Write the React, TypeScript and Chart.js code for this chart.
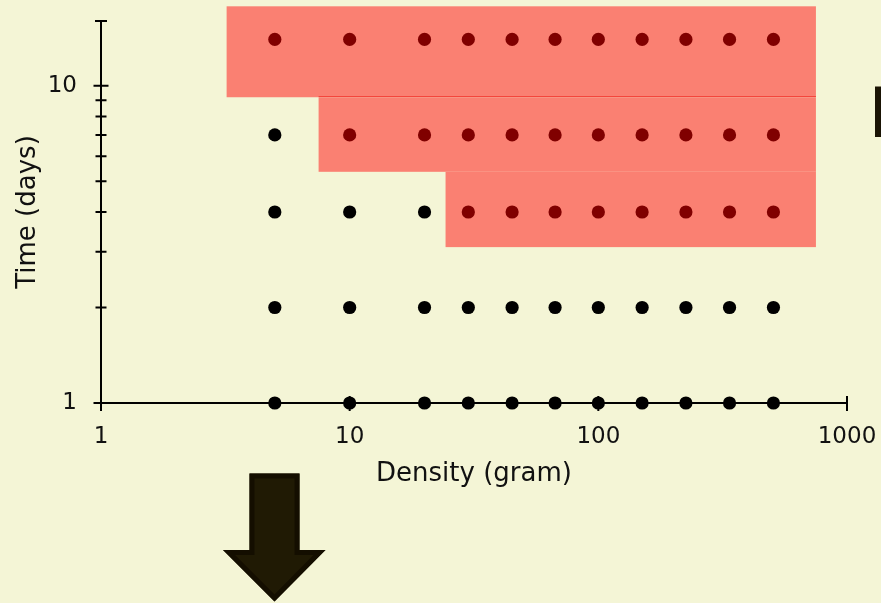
import React, { useEffect, useRef } from 'react';
import { Chart, registerables } from 'chart.js';

Chart.register(...registerables);

// ---- data ----
const densities = [5, 10, 20, 30, 45, 67, 100, 150, 225, 337, 506];
const times = [1, 2, 4, 7, 14];
// for each time row: index in densities from which points fall in a highlighted region
const highlightFrom = [11, 11, 3, 1, 0];

// highlighted regions (data units)
const regionXMin = [3.2, 7.5, 24.3];
const regionXMax = [750, 750, 750];
const regionYMin = [9.2, 5.355, 3.1];
const regionYMax = [17.8, 9.2, 5.355];

const xTicks = [1, 10, 100, 1000];
const xTickLabels = ['1', '10', '100', '1000'];
const yTicks = [1, 10];
const yTickLabels = ['1', '10'];
const yMinorTicks = [2, 3, 4, 5, 6, 7, 8, 9];
const xRange = [1, 1000];
const yRange = [1, 16];

const FONT = "'DejaVu Sans', Verdana, sans-serif";
const BG = '#F4F5D6';

const blackPoints: { x: number; y: number }[] = [];
const redPoints: { x: number; y: number }[] = [];
times.forEach((t, r) => {
  densities.forEach((d, i) => {
    (i >= highlightFrom[r] ? redPoints : blackPoints).push({ x: d, y: t });
  });
});

const decorPlugin = {
  id: 'decor',
  beforeDatasetsDraw(chart: any) {
    const { ctx, scales } = chart;
    const x = scales.x;
    const y = scales.y;
    ctx.save();
    // regions
    ctx.fillStyle = '#FA8072';
    for (let i = 0; i < regionXMin.length; i++) {
      const l = x.getPixelForValue(regionXMin[i]);
      const r = x.getPixelForValue(regionXMax[i]);
      const t = y.getPixelForValue(regionYMax[i]);
      const b = y.getPixelForValue(regionYMin[i]);
      ctx.fillRect(l, t, r - l, b - t);
    }
    // thin red edge on top of the second region
    {
      const l = x.getPixelForValue(regionXMin[1]);
      const r = x.getPixelForValue(regionXMax[1]);
      const t = Math.round(y.getPixelForValue(regionYMax[1])) - 0.5;
      ctx.strokeStyle = '#F4463C';
      ctx.lineWidth = 1;
      ctx.beginPath();
      ctx.moveTo(l, t);
      ctx.lineTo(r, t);
      ctx.stroke();
    }

    // axes
    const x0 = x.getPixelForValue(xRange[0]);
    const x1 = x.getPixelForValue(xRange[1]);
    const y0 = y.getPixelForValue(yRange[0]);
    const y1 = y.getPixelForValue(yRange[1]);
    ctx.strokeStyle = '#000';
    ctx.lineWidth = 2;
    ctx.beginPath();
    ctx.moveTo(x0, y1);
    ctx.lineTo(x0, y0);
    ctx.moveTo(x0, y0);
    ctx.lineTo(x1, y0);
    // y top cap
    ctx.moveTo(x0 - 6, y1);
    ctx.lineTo(x0 + 6, y1);
    // y major ticks
    yTicks.forEach((v) => {
      const p = y.getPixelForValue(v);
      ctx.moveTo(x0 - 7.5, p);
      ctx.lineTo(x0 + 7.5, p);
    });
    // x major ticks
    xTicks.forEach((v) => {
      const p = x.getPixelForValue(v);
      ctx.moveTo(p, y0 - 7);
      ctx.lineTo(p, y0 + 8);
    });
    ctx.stroke();
    // y minor ticks
    ctx.beginPath();
    yMinorTicks.forEach((v) => {
      const p = y.getPixelForValue(v);
      ctx.moveTo(x0 - 5.5, p);
      ctx.lineTo(x0 + 5.5, p);
    });
    ctx.stroke();
    ctx.restore();
  },
  afterDraw(chart: any) {
    const { ctx } = chart;
    ctx.save();
    // down arrow decoration
    const pts = [
      [249.5, 473.5],
      [299.5, 473.5],
      [299.5, 550],
      [325.5, 550],
      [274.5, 601.5],
      [223, 550],
      [249.5, 550],
    ];
    ctx.beginPath();
    pts.forEach((p, i) => (i === 0 ? ctx.moveTo(p[0], p[1]) : ctx.lineTo(p[0], p[1])));
    ctx.closePath();
    ctx.fillStyle = '#201A04';
    ctx.fill();
    ctx.save();
    ctx.clip();
    ctx.strokeStyle = '#140E00';
    ctx.lineWidth = 10;
    ctx.stroke();
    ctx.restore();
    // partial block at right edge
    ctx.fillStyle = '#1A1404';
    ctx.fillRect(875, 86, 6, 51);
    ctx.fillStyle = '#8A8570';
    ctx.fillRect(875, 86, 6, 1);
    ctx.restore();
  },
};

export default function App() {
  const canvasRef = useRef<HTMLCanvasElement | null>(null);

  useEffect(() => {
    document.body.style.background = BG;
    const canvas = canvasRef.current;
    if (!canvas) return;
    const chart = new Chart(canvas, {
      type: 'scatter',
      data: {
        datasets: [
          {
            data: blackPoints,
            backgroundColor: '#000000',
            borderWidth: 0,
            pointRadius: 6.6,
            pointHoverRadius: 6.6,
            clip: false,
          } as any,
          {
            data: redPoints,
            backgroundColor: '#800000',
            borderWidth: 0,
            pointRadius: 6.6,
            pointHoverRadius: 6.6,
            clip: false,
          } as any,
        ],
      },
      options: {
        animation: false,
        responsive: false,
        events: [],
        layout: { autoPadding: false, padding: { left: 0, right: 34, top: 21, bottom: 113 } },
        plugins: {
          legend: { display: false },
          tooltip: { enabled: false },
        },
        scales: {
          x: {
            type: 'logarithmic',
            position: 'bottom',
            min: xRange[0],
            max: xRange[1],
            afterBuildTicks: (s: any) => {
              s.ticks = xTicks.map((v) => ({ value: v }));
            },
            afterFit: (s: any) => {
              s.height = 87;
              s.paddingLeft = 0;
              s.paddingRight = 0;
              s.paddingTop = 0;
              s.paddingBottom = 0;
            },
            grid: { display: false, drawTicks: false },
            border: { display: false },
            ticks: {
              autoSkip: false,
              maxRotation: 0,
              padding: 20,
              color: '#111',
              font: { family: FONT, size: 23 },
              callback: (_v: any, i: number) => xTickLabels[i],
            },
            title: {
              display: true,
              text: 'Density (gram)',
              color: '#111',
              font: { family: FONT, size: 26 },
              padding: { top: 0, bottom: 0 },
            },
          },
          y: {
            type: 'logarithmic',
            position: 'left',
            min: yRange[0],
            max: yRange[1],
            afterBuildTicks: (s: any) => {
              s.ticks = yTicks.map((v) => ({ value: v }));
            },
            afterFit: (s: any) => {
              s.width = 101;
              s.paddingLeft = 0;
              s.paddingRight = 0;
              s.paddingTop = 0;
              s.paddingBottom = 0;
            },
            grid: { display: false, drawTicks: false },
            border: { display: false },
            ticks: {
              autoSkip: false,
              padding: 24,
              color: '#111',
              font: { family: FONT, size: 23 },
              callback: (_v: any, i: number) => yTickLabels[i],
            },
            title: {
              display: true,
              text: 'Time (days)',
              color: '#111',
              font: { family: FONT, size: 26 },
              padding: { top: 13, bottom: 0 },
            },
          },
        },
      } as any,
      plugins: [decorPlugin],
    });
    return () => chart.destroy();
  }, []);

  return (
    <div
      style={{
        position: 'fixed',
        left: 0,
        top: 0,
        width: 881,
        height: 603,
        background: BG,
        overflow: 'hidden',
      }}
    >
      <canvas ref={canvasRef} width={881} height={603} style={{ display: 'block' }} />
    </div>
  );
}
